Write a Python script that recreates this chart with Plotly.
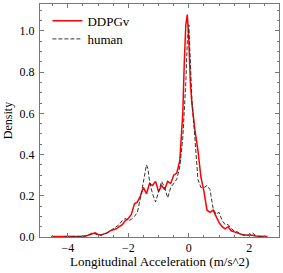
import plotly.graph_objects as go

# DDPGv series
ddpg_x = [-4.55,-4.4,-4.2,-4.0,-3.8,-3.6,-3.4,-3.3,-3.2,-3.1,-3.0,-2.9,-2.8,-2.7,-2.6,-2.5,-2.4,-2.3,-2.2,-2.1,-2.0,-1.9,-1.8,-1.7,-1.6,-1.5,-1.4,-1.3,-1.2,-1.1,-1.0,-0.9,-0.8,-0.7,-0.6,-0.5,-0.4,-0.3,-0.2,-0.15,-0.1,-0.05,0.0,0.05,0.1,0.2,0.3,0.4,0.5,0.6,0.7,0.8,0.9,1.0,1.1,1.2,1.3,1.4,1.5,1.6,1.7,1.8,1.9,2.0,2.1,2.2,2.3,2.4,2.5,2.6]
ddpg_y = [0.003,0.002,0.003,0.002,0.003,0.002,0.005,0.01,0.015,0.02,0.012,0.01,0.015,0.02,0.03,0.035,0.04,0.05,0.06,0.08,0.09,0.11,0.16,0.17,0.20,0.24,0.21,0.26,0.25,0.27,0.22,0.25,0.23,0.27,0.26,0.30,0.31,0.37,0.60,0.85,1.03,1.08,0.95,0.75,0.65,0.52,0.42,0.29,0.22,0.13,0.12,0.13,0.10,0.07,0.05,0.04,0.05,0.03,0.025,0.02,0.015,0.01,0.01,0.01,0.008,0.005,0.005,0.003,0.003,0.002]

# human series
human_x = [-4.1,-3.9,-3.5,-3.3,-3.2,-3.1,-3.0,-2.9,-2.8,-2.7,-2.6,-2.5,-2.4,-2.3,-2.2,-2.1,-2.0,-1.9,-1.8,-1.7,-1.6,-1.5,-1.4,-1.35,-1.3,-1.2,-1.1,-1.0,-0.9,-0.8,-0.7,-0.6,-0.5,-0.4,-0.3,-0.2,-0.1,-0.05,0.0,0.05,0.1,0.2,0.3,0.4,0.5,0.6,0.7,0.8,0.9,1.0,1.1,1.2,1.3,1.4,1.5,1.6,1.7,1.8,1.9,2.0,2.1,2.2,2.3,2.4]
human_y = [0.003,0.002,0.003,0.01,0.02,0.015,0.01,0.008,0.015,0.02,0.03,0.04,0.05,0.06,0.08,0.09,0.08,0.085,0.10,0.12,0.19,0.28,0.35,0.33,0.27,0.21,0.17,0.22,0.27,0.24,0.19,0.24,0.26,0.28,0.34,0.48,0.75,0.95,1.03,0.88,0.67,0.48,0.28,0.24,0.24,0.25,0.23,0.14,0.11,0.12,0.08,0.06,0.06,0.04,0.03,0.025,0.015,0.01,0.008,0.01,0.02,0.008,0.003,0.002]

x_tickvals = [-4, -2, 0, 2]
y_tickvals = [0.0, 0.2, 0.4, 0.6, 0.8, 1.0]

FONT = "Liberation Serif"

fig = go.Figure()
fig.add_trace(go.Scatter(x=ddpg_x, y=ddpg_y, mode="lines", name="DDPGv",
                         line=dict(color="#ff0000", width=1.5), legend="legend"))
fig.add_trace(go.Scatter(x=human_x, y=human_y, mode="lines", name="human",
                         line=dict(color="#333333", width=1, dash="4px,2px"), legend="legend2"))

axis_common = dict(
    showline=True, linecolor="#777777", linewidth=1, mirror="allticks",
    ticks="inside", ticklen=4, tickcolor="#777777", tickwidth=1,
    showgrid=False, zeroline=False, automargin=False,
    tickfont=dict(family=FONT, size=12, color="#000000"),
)

fig.update_xaxes(
    range=[-4.92, 2.98], tickvals=x_tickvals,
    minor=dict(dtick=0.5, tick0=0, ticks="inside", ticklen=2, tickcolor="#777777", showgrid=False),
    **axis_common,
)
fig.update_yaxes(
    range=[0, 1.131], tickvals=y_tickvals, tickformat=".1f", ticklabelstandoff=2,
    minor=dict(dtick=0.05, tick0=0, ticks="inside", ticklen=2, tickcolor="#777777", showgrid=False),
    title=dict(text="Density", font=dict(family=FONT, size=12, color="#000"), standoff=4),
    **axis_common,
)

fig.add_annotation(text="Longitudinal Acceleration (m/s^2)", xref="paper", yref="paper",
                   x=0.5, y=0, xanchor="center", yanchor="middle", yshift=-24,
                   showarrow=False, font=dict(family=FONT, size=13, color="#000"))

leg_common = dict(xanchor="left", yanchor="middle", bgcolor="rgba(0,0,0,0)",
                  font=dict(family=FONT, size=13, color="#000"))

fig.update_layout(
    width=283, height=273,
    margin=dict(l=40, r=4, t=4, b=36),
    plot_bgcolor="white", paper_bgcolor="white",
    font=dict(family=FONT, size=12, color="#000"),
    showlegend=True,
    legend=dict(x=0.031, y=0.928, **leg_common),
    legend2=dict(x=0.031, y=0.850, **leg_common),
)

fig.write_html("out.html", config={"displayModeBar": False},
               post_script="document.body.style.margin='0';")
